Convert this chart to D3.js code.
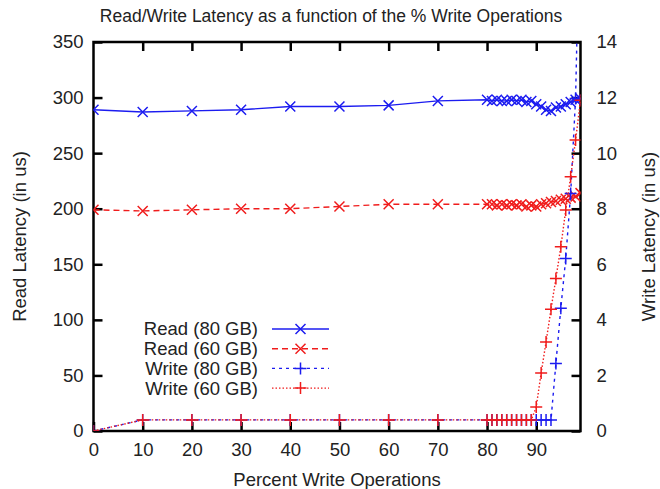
<!DOCTYPE html>
<html>
<head>
<meta charset="utf-8">
<script src="https://cdn.jsdelivr.net/npm/d3@7"></script>
<style>
  html, body { margin: 0; padding: 0; background: #fff; }
  svg text { font-family: "Liberation Sans", Arial, Helvetica, sans-serif; fill: #222; }
</style>
</head>
<body>
<svg id="chart" width="660" height="489"></svg>
<script>
// Percent of write operations at each measurement
const percentWrite = [0, 10, 20, 30, 40, 50, 60, 70,
  80, 81, 82, 83, 84, 85, 86, 87, 88, 89, 90, 91, 92, 93, 94, 95, 96, 97, 98, 99];

// Read latency (us), left axis
const read80 = [289, 287, 288, 289, 292, 292, 293, 297,
  298, 297, 298, 297, 297, 298, 297, 298, 296, 297, 294, 292, 289, 288, 291, 292, 294, 296, 298, 299];
const read60 = [199, 198, 199, 200, 200, 202, 204, 204,
  204, 204, 203, 204, 203, 204, 203, 204, 202, 203, 202, 204, 205, 206, 207, 208, 209, 210, 211, 214];

// Write latency (us), right axis
const write80 = [0, 0.4, 0.4, 0.4, 0.4, 0.4, 0.4, 0.4,
  0.4, 0.4, 0.4, 0.4, 0.4, 0.4, 0.4, 0.4, 0.4, 0.4, 0.4, 0.4, 0.4, 0.4, 2.43, 4.42, 6.21, 8.55, 11.97, 20];
const write60 = [0, 0.4, 0.4, 0.4, 0.4, 0.4, 0.4, 0.4,
  0.4, 0.4, 0.4, 0.4, 0.4, 0.4, 0.4, 0.4, 0.4, 0.4, 0.86, 2.09, 3.2, 4.38, 5.49, 6.63, 7.95, 9.15, 10.47, 11.9];

const xTicks = [0, 10, 20, 30, 40, 50, 60, 70, 80, 90];
const yLeftTicks = [0, 50, 100, 150, 200, 250, 300, 350];
const yRightTicks = [0, 2, 4, 6, 8, 10, 12, 14];

const seriesNames = ["Read (80 GB)", "Read (60 GB)", "Write (80 GB)", "Write (60 GB)"];

const BLUE = "#1c1cf0", RED = "#f01c1c";

const svg = d3.select("#chart");
const L = 93.5, R = 580.5, T = 42, B = 431;

const x = d3.scaleLinear().domain([0, 99]).range([L, R]);
const yL = d3.scaleLinear().domain([0, 350]).range([B, T]);
const yR = d3.scaleLinear().domain([0, 14]).range([B, T]);

svg.append("defs").append("clipPath").attr("id", "plot")
  .append("rect").attr("x", L).attr("y", T).attr("width", R - L).attr("height", B - T);

// Axes with inward ticks
const tickLen = 9;
const fontSize = 18.5;
const axB = svg.append("g").attr("transform", `translate(0,${B})`)
  .call(d3.axisBottom(x).tickValues(xTicks).tickSize(-tickLen).tickPadding(12));
const axT = svg.append("g").attr("transform", `translate(0,${T})`)
  .call(d3.axisTop(x).tickValues(xTicks.slice(1)).tickSize(-tickLen).tickFormat(""));
const axL = svg.append("g").attr("transform", `translate(${L},0)`)
  .call(d3.axisLeft(yL).tickValues(yLeftTicks).tickSize(-tickLen).tickPadding(10));
const axR = svg.append("g").attr("transform", `translate(${R},0)`)
  .call(d3.axisRight(yR).tickValues(yRightTicks).tickSize(-tickLen).tickPadding(16));

[axB, axT, axL, axR].forEach(g => {
  g.select(".domain").remove();
  g.selectAll(".tick line").attr("stroke", "#000").attr("stroke-width", 2.5);
  g.selectAll(".tick text").attr("font-size", fontSize).attr("fill", "#222")
    .style("font-family", '"Liberation Sans", Arial, sans-serif');
});

// Frame
svg.append("rect").attr("x", L).attr("y", T).attr("width", R - L).attr("height", B - T)
  .attr("fill", "none").attr("stroke", "#000").attr("stroke-width", 2.5);

// Marker shapes
function crossX(g, cx, cy, color) {
  const s = 5;
  g.append("path").attr("d", `M${cx - s},${cy - s}L${cx + s},${cy + s}M${cx - s},${cy + s}L${cx + s},${cy - s}`)
    .attr("stroke", color).attr("stroke-width", 1.5).attr("fill", "none");
}
function crossPlus(g, cx, cy, color) {
  const s = 6;
  g.append("path").attr("d", `M${cx - s},${cy}L${cx + s},${cy}M${cx},${cy - s}L${cx},${cy + s}`)
    .attr("stroke", color).attr("stroke-width", 1.5).attr("fill", "none");
}

const series = [
  { name: seriesNames[0], vals: read80, y: yL, color: BLUE, dash: null, marker: crossX },
  { name: seriesNames[1], vals: read60, y: yL, color: RED, dash: "6,4", marker: crossX },
  { name: seriesNames[2], vals: write80, y: yR, color: BLUE, dash: "3,4", marker: crossPlus },
  { name: seriesNames[3], vals: write60, y: yR, color: RED, dash: "1.5,2", marker: crossPlus }
];

const plot = svg.append("g").attr("clip-path", "url(#plot)");
series.forEach(s => {
  const pts = percentWrite.map((p, i) => [p, s.vals[i]]);
  const line = d3.line().x(d => x(d[0])).y(d => s.y(d[1]));
  plot.append("path").attr("d", line(pts)).attr("fill", "none")
    .attr("stroke", s.color).attr("stroke-width", 1.4)
    .attr("stroke-dasharray", s.dash);
  const mg = plot.append("g");
  pts.forEach(d => s.marker(mg, x(d[0]), s.y(d[1]), s.color));
});

// Legend
const legY0 = 329, legStep = 19.7;
series.forEach((s, i) => {
  const yy = legY0 + i * legStep;
  svg.append("text").attr("x", 258).attr("y", yy).attr("dy", "0.35em")
    .attr("text-anchor", "end").attr("font-size", fontSize).text(s.name);
  svg.append("line").attr("x1", 272).attr("x2", 329).attr("y1", yy).attr("y2", yy)
    .attr("stroke", s.color).attr("stroke-width", 1.4).attr("stroke-dasharray", s.dash);
  s.marker(svg, 300.5, yy, s.color);
});

// Titles
svg.append("text").attr("x", 331).attr("y", 22).attr("text-anchor", "middle")
  .attr("font-size", 17.5).text("Read/Write Latency as a function of the % Write Operations");
svg.append("text").attr("x", 337).attr("y", 486).attr("text-anchor", "middle")
  .attr("font-size", fontSize).text("Percent Write Operations");
svg.append("text").attr("transform", `translate(26,${(T + B) / 2}) rotate(-90)`)
  .attr("text-anchor", "middle").attr("font-size", fontSize).text("Read Latency (in us)");
svg.append("text").attr("transform", `translate(655,${(T + B) / 2}) rotate(-90)`)
  .attr("text-anchor", "middle").attr("font-size", fontSize).text("Write Latency (in us)");
</script>
</body>
</html>
